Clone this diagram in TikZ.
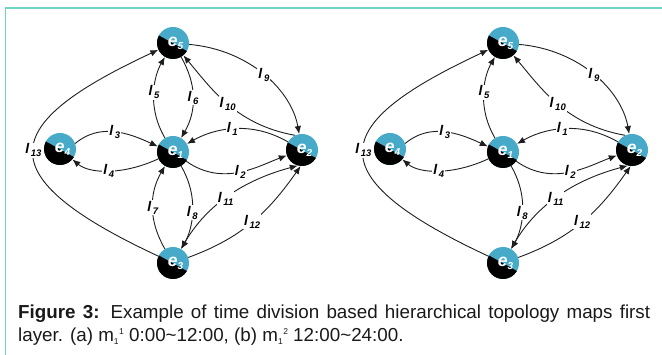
\documentclass[tikz,border=0pt]{standalone}
\usepackage{fontspec}
\setmainfont{Liberation Sans}
\usetikzlibrary{arrows.meta}

\definecolor{siteblue}{RGB}{70,170,200}
\definecolor{framegreen}{RGB}{112,212,196}
\definecolor{linkgray}{RGB}{30,30,30}

% labels: node e_i and link l_k
\newcommand{\sitelbl}[1]{\raisebox{-2pt}{\hspace{5pt}\fontsize{17.5}{17.5}\selectfont\bfseries\itshape e\raisebox{-3pt}{\fontsize{10}{10}\selectfont #1}}}
\newcommand{\linklbl}[1]{{\fontsize{14}{14}\selectfont\bfseries\itshape l}\,\raisebox{-3pt}{\fontsize{9.5}{9.5}\selectfont\bfseries\itshape #1}}
\newcommand{\capidx}[2]{m\raisebox{-3.5pt}{\fontsize{8.5}{8.5}\selectfont #1}\kern0.5pt\raisebox{6.5pt}{\fontsize{8.5}{8.5}\selectfont #2}}

\begin{document}
\begin{tikzpicture}[
  x=1pt, y=1pt,
  site/.style={circle, minimum size=32pt, inner sep=0pt, fill=siteblue, text=white,
    path picture={\fill[black]
      ([shift={(152:16)}]path picture bounding box.center) --
      ([shift={(-30:16)}]path picture bounding box.center) --
      ([shift={(-30:30)}]path picture bounding box.center) --
      ([shift={(-100:30)}]path picture bounding box.center) --
      ([shift={(190:30)}]path picture bounding box.center) --
      ([shift={(152:30)}]path picture bounding box.center) -- cycle;}},
  link/.style={-{Latex[length=8pt,width=6.5pt]}, line width=0.9pt, draw=linkgray},
  bilink/.style={link, {Latex[length=8pt,width=6.5pt]}-{Latex[length=8pt,width=6.5pt]}},
  lbl/.style={fill=white, inner sep=1pt}
]
\useasboundingbox (0,0) rectangle (662,-355);

% frame
\draw[framegreen, line width=1.6pt] (5.5,-355) -- (5.5,-8) -- (662,-8);

% both maps share the same layout
\foreach \p/\dx in {a/0, b/330} {
\begin{scope}[shift={(\dx,0)}, name prefix=\p-]
\node[site] (e5) at (173,-43) {\sitelbl{5}};
\node[site] (e1) at (173,-152) {\sitelbl{1}};
\node[site] (e4) at (60,-149) {\sitelbl{4}};
\node[site] (e2) at (302,-150) {\sitelbl{2}};
\node[site] (e3) at (173,-263) {\sitelbl{3}};

\draw[link] (e2) to[out=150, in=30] node[lbl] {\linklbl{1}} (e1);
\draw[link] (e1) to[out=-35, in=200] node[lbl] {\linklbl{2}} (e2);
\draw[link] (e4.20) to[out=40, in=155] node[lbl] {\linklbl{3}} (e1.160);
\draw[link] (e1) to[out=205, in=-40] node[lbl] {\linklbl{4}} (e4);
\draw[link] (e1) to[out=120, in=-120] node[lbl] {\linklbl{5}} (e5);
\draw[link] (e1) to[out=-60, in=60] node[lbl] {\linklbl{8}} (e3);
\draw[link] (e5) to[out=-5, in=100] node[lbl] {\linklbl{9}} (e2);
\draw[link] (e2.115) to[out=170, in=-50] node[lbl] {\linklbl{10}} (e5);
\draw[bilink] (e2.-105) to[out=195, in=60] node[lbl] {\linklbl{11}} (e3);
\draw[link] (e3) to[out=20, in=-125] node[lbl] {\linklbl{12}} (e2.-95);
\draw[link] (e3) to[out=155, in=205, looseness=2.3] node[lbl, inner sep=0.5pt] {\linklbl{13}} (e5);
\end{scope}
}

% links only in the first map
\draw[link] (a-e5) to[out=-60, in=60] node[lbl] {\linklbl{6}} (a-e1);
\draw[link] (a-e3) to[out=120, in=-120] node[lbl] {\linklbl{7}} (a-e1);

% caption
\node[anchor=north west, text width=632pt, align=justify, inner sep=0pt,
      font=\fontsize{18.8}{23}\selectfont, text=black!90] (cap) at (18,-304.5)
  {\textbf{Figure 3:} Example of time division based hierarchical topology maps first\linebreak
   layer. (a) \capidx{1}{1} 0:00\textasciitilde 12:00, (b) \capidx{1}{2} 12:00\textasciitilde 24:00.};
\end{tikzpicture}
\end{document}
